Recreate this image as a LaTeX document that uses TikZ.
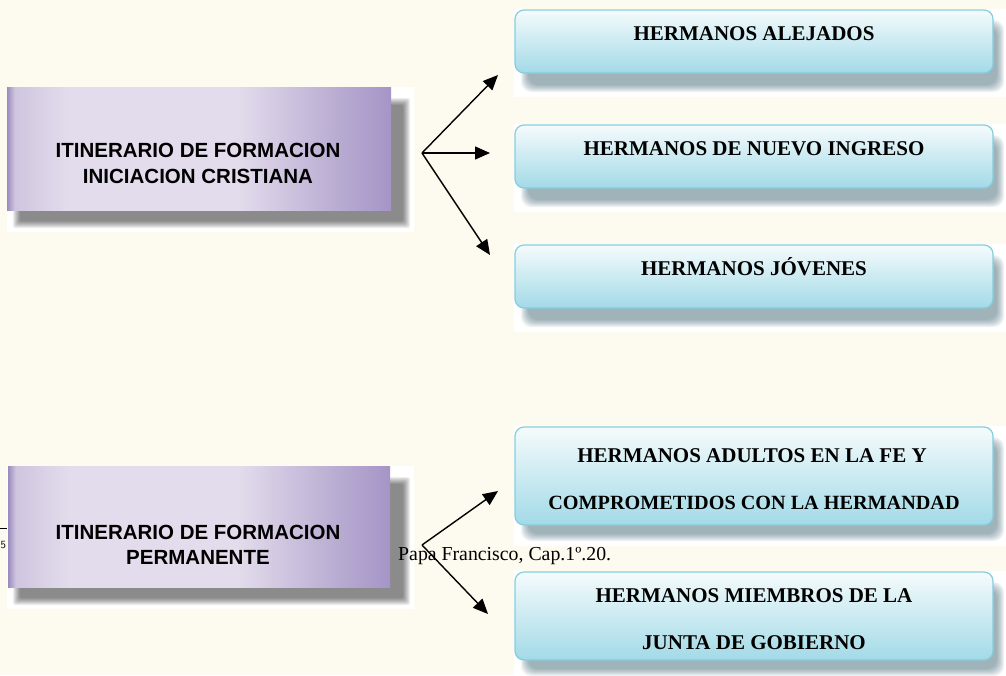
\documentclass[tikz,border=0pt]{standalone}
\usepackage{fontspec}
\setmainfont{Liberation Serif}
\newfontfamily\arialf{Liberation Sans}
\usetikzlibrary{arrows.meta}
\definecolor{bgc}{HTML}{FDFBEF}
\definecolor{pEdgeL}{HTML}{9A8ABD}
\definecolor{pMid}{HTML}{CFC5DF}
\definecolor{pLight}{HTML}{E3DCEC}
\definecolor{pDark}{HTML}{B9ACD2}
\definecolor{pEdgeR}{HTML}{A595C7}
\definecolor{cTop}{HTML}{F5FBFC}
\definecolor{cBot}{HTML}{A2DAE7}
\definecolor{cLine}{HTML}{86CDDE}
\definecolor{cShadow}{HTML}{2E5A6A}
\pgfdeclarehorizontalshading{purpshade}{100bp}{color(0bp)=(pEdgeL); color(25bp)=(pEdgeL); color(26bp)=(pMid); color(33bp)=(pLight); color(55bp)=(pLight); color(68bp)=(pDark); color(75bp)=(pEdgeR); color(100bp)=(pEdgeR)}
\newcommand{\softsh}[6]{%
  \foreach \k in {0,1,...,7}{\fill[#5,opacity=0.07,rounded corners=#6] ({#1+\k},{#2+\k}) rectangle ({#3-\k},{#4-\k});}}
\tikzset{
  purpbox/.style={shading=purpshade, draw=none, inner sep=0pt},
  cyanbox/.style={top color=cTop, bottom color=cBot, draw=cLine, line width=1.2pt, rounded corners=9pt, inner sep=0pt},
  ptext/.style={font=\arialf\bfseries\fontsize{20.5}{24}\selectfont, anchor=base, inner sep=0pt},
  ctext/.style={font=\bfseries\fontsize{21}{24}\selectfont, anchor=base, inner sep=0pt},
  ctextb/.style={font=\bfseries\fontsize{20.2}{24}\selectfont, anchor=base, inner sep=0pt},
  arr/.style={-{Triangle[length=15pt,width=13pt]}, line width=1.4pt, black},
}
\begin{document}
\begin{tikzpicture}[x=1pt,y=-1pt]
\useasboundingbox (0,0) rectangle (1006,675);
\fill[bgc] (0,0) rectangle (1006,675);
% white backdrops of pasted pictures
\fill[white] (7,87) rectangle (414,232);
\fill[white] (7,466) rectangle (414,609);
\fill[white] (514,9) rectangle (1006,97);
\fill[white] (514,124) rectangle (1006,212);
\fill[white] (514,244) rectangle (1006,332);
\fill[white] (514,426) rectangle (1006,546);
\fill[white] (514,571) rectangle (1006,675);
% shadows
\softsh{13}{98}{410}{228}{black}{2pt}
\softsh{13}{477}{410}{605}{black}{2pt}
\softsh{521}{20}{1004}{92}{cShadow}{10pt}
\softsh{521}{135}{1004}{207}{cShadow}{10pt}
\softsh{521}{255}{1004}{327}{cShadow}{10pt}
\softsh{521}{437}{1004}{541}{cShadow}{10pt}
\softsh{521}{582}{1004}{676}{cShadow}{10pt}
% purple boxes
\node[purpbox, minimum width=384pt, minimum height=123pt] (p1) at (199,148.5) {};
\node[ptext] (p1a) at (198,157) {ITINERARIO DE FORMACION};
\node[ptext] (p1b) at (198,183) {INICIACION CRISTIANA};
\node[purpbox, minimum width=382pt, minimum height=121pt] (p2) at (199,526.5) {};
\node[ptext] (p2a) at (198,539) {ITINERARIO DE FORMACION};
\node[ptext] (p2b) at (198,564) {PERMANENTE};
% footnote fragment
\draw[line width=0.8pt] (0,528) -- (7,528);
\node[font=\sffamily\fontsize{11}{13}\selectfont, anchor=base west, inner sep=0pt] (fn) at (0.5,548) {5};
% cyan boxes
\node[cyanbox, minimum width=478pt, minimum height=63pt] (c1) at (754,41.5) {};
\node[ctext] (c1t) at (754,40) {HERMANOS ALEJADOS};
\node[cyanbox, minimum width=478pt, minimum height=63pt] (c2) at (754,156.5) {};
\node[ctext] (c2t) at (754,155) {HERMANOS DE NUEVO INGRESO};
\node[cyanbox, minimum width=478pt, minimum height=63pt] (c3) at (754,276.5) {};
\node[ctext] (c3t) at (754,275) {HERMANOS JÓVENES};
\node[cyanbox, minimum width=478pt, minimum height=98pt] (c4) at (754,476) {};
\node[ctext] (c4a) at (752,462) {HERMANOS ADULTOS EN LA FE Y};
\node[ctextb] (c4b) at (754,509) {COMPROMETIDOS CON LA HERMANDAD};
\node[cyanbox, minimum width=478pt, minimum height=88pt] (c5) at (754,616) {};
\node[ctext] (c5a) at (754,602) {HERMANOS MIEMBROS DE LA};
\node[ctext] (c5b) at (754,649) {JUNTA DE GOBIERNO};
% citation text
\node[font=\fontsize{19.8}{22}\selectfont, anchor=base west, inner sep=0pt] (cite) at (398,560) {Papa Francisco, Cap.1º.20.};
% arrows
\coordinate (f1) at (422,153);
\coordinate (t1) at (498,75);
\coordinate (t2) at (490,153);
\coordinate (t3) at (490,255);
\coordinate (f2) at (422,545);
\coordinate (t4) at (498,491);
\coordinate (t5) at (488,614);
\draw[arr] (f1) -- (t1);
\draw[arr] (f1) -- (t2);
\draw[arr] (f1) -- (t3);
\draw[arr] (f2) -- (t4);
\draw[arr] (f2) -- (t5);
\end{tikzpicture}
\end{document}
